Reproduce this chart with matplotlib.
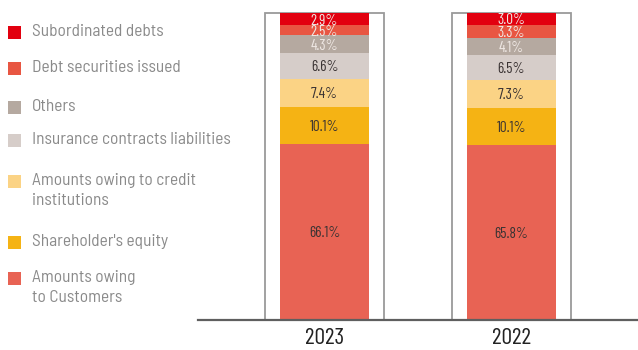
import numpy as np
import matplotlib
matplotlib.use("Agg")
import matplotlib.pyplot as plt
from matplotlib.patches import Rectangle

plt.rcParams["font.family"] = ["Barlow Semi Condensed", "DejaVu Sans"]
NUM_FONT = ["Barlow Condensed", "DejaVu Sans"]

# Funding structure, bottom to top of each stacked bar
years = ["2023", "2022"]
categories = [
    "Amounts owing\nto Customers",
    "Shareholder's equity",
    "Amounts owing to credit\ninstitutions",
    "Insurance contracts liabilities",
    "Others",
    "Debt securities issued",
    "Subordinated debts",
]
share_2023 = [66.1, 10.1, 7.4, 6.6, 4.3, 2.5, 2.9]
share_2022 = [65.8, 10.1, 7.3, 6.5, 4.1, 3.3, 3.0]
colors = ["#E86354", "#F5B314", "#FBD385", "#D6CDC9", "#B5A9A0", "#E85642", "#E2000F"]
label_colors = ["#3a3333", "#3a3333", "#3a3333", "#3a3333", "#efe8e4", "#efe8e4", "#efe8e4"]

series = [share_2023, share_2022]

# Power scale that gives the thin upper layers more room
P = 1.34
def fwd(y):
    y = np.asarray(y, dtype=float)
    return np.sign(y) * (np.abs(y) / 100.0) ** P * 100.0
def inv(y):
    y = np.asarray(y, dtype=float)
    return np.sign(y) * (np.abs(y) / 100.0) ** (1.0 / P) * 100.0

W, H = 638, 350
fig = plt.figure(figsize=(W / 100, H / 100), dpi=100)
ax = fig.add_axes([198 / W, 30 / H, 440 / W, 307 / H])
ax.set_yscale("function", functions=(fwd, inv))

bar_w = 0.476
box_w = 0.636
x = np.arange(len(years))

for i, vals in enumerate(series):
    # frame around each bar
    ax.add_patch(Rectangle((x[i] - box_w / 2, 0), box_w, 100, fill=False,
                           edgecolor="#9a9a9a", linewidth=1.3, clip_on=False, zorder=1))
    bottom = 0.0
    for v, c, lc in zip(vals, colors, label_colors):
        ax.bar(x[i], v, bottom=bottom, width=bar_w, color=c, linewidth=0, zorder=2)
        mid = float(inv((fwd(bottom) + fwd(bottom + v)) / 2))
        ax.text(x[i], mid, f"{v:.1f}%", ha="center", va="center_baseline", fontsize=11,
                family=NUM_FONT, color=lc, zorder=3, clip_on=True)
        bottom += v

ax.set_xlim(-0.6765, 1.6765)
ax.set_ylim(0, 100)
ax.set_xticks(x)
ax.set_xticklabels(years, fontsize=17, color="#222222", family=NUM_FONT)
ax.tick_params(axis="x", length=0, pad=6)
ax.set_yticks([])
for s in ["top", "left", "right"]:
    ax.spines[s].set_visible(False)
ax.spines["bottom"].set_color("#5f5f5f")
ax.spines["bottom"].set_linewidth(1.6)
ax.spines["bottom"].set_zorder(5)

# Legend, top entry first
legend_y = [31, 67, 106, 139, 180, 241, 277]
for cat, col, yy in zip(categories[::-1], colors[::-1], legend_y):
    fig.patches.append(Rectangle((8 / W, 1 - (yy + 8) / H), 13 / W, 13 / H,
                                 transform=fig.transFigure, facecolor=col,
                                 edgecolor="none"))
    fig.text(32 / W, 1 - (yy - 7) / H, cat, ha="left", va="top", fontsize=12.5,
             color="#8a8a8a", linespacing=1.45)

fig.savefig("out.png", dpi=100)
